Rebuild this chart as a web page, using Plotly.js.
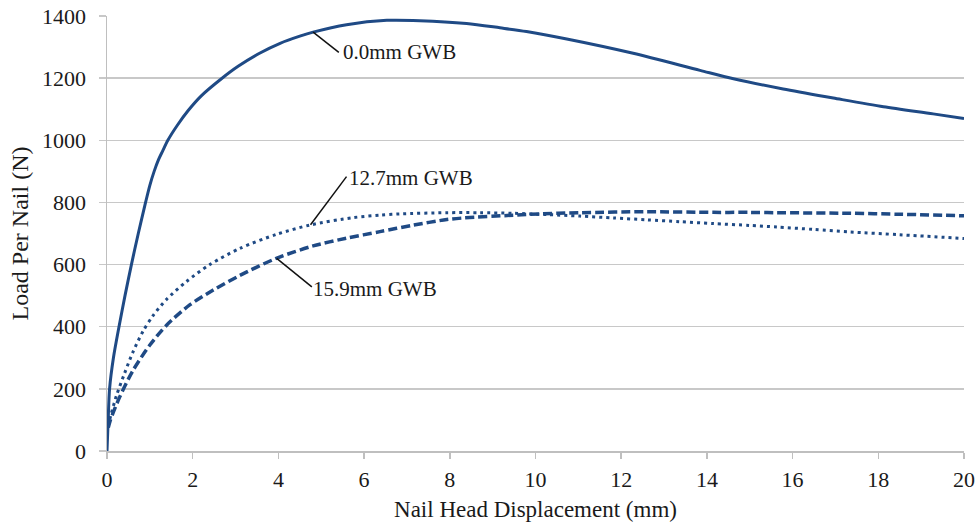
<!DOCTYPE html>
<html>
<head>
<meta charset="utf-8">
<script src="https://cdn.plot.ly/plotly-3.0.1.min.js"></script>
<style>
  html, body { margin: 0; padding: 0; background: #fff; }
  #chart { width: 976px; height: 525px; }
</style>
</head>
<body>
<div id="chart"></div>
<script>
// Nail head displacement (mm) and load per nail (N) for each series
const seriesNames = ["0.0mm GWB", "12.7mm GWB", "15.9mm GWB"];

const x00 = [0, 0.03, 0.06, 0.15, 0.28, 0.42, 0.57, 0.73, 0.9, 1.0, 1.1, 1.2, 1.3, 1.42, 1.65, 1.89, 2.2, 2.67, 3.06, 3.56, 4.04, 4.5, 4.81, 5.59, 6.53, 7.3, 8.39, 9.17, 9.79, 10.73, 12.28, 13.84, 14.62, 15.78, 16.95, 18.12, 19.28, 20];
const y00 = [0, 110, 200, 300, 400, 500, 600, 700, 800, 855, 900, 937, 966, 1000, 1050, 1095, 1143, 1198, 1238, 1280, 1312, 1335, 1348, 1372, 1386, 1385, 1376, 1362, 1350, 1326, 1280, 1225, 1198, 1165, 1136, 1108, 1085, 1070];

const x127 = [0.02, 0.1, 0.22, 0.41, 0.61, 0.84, 1.07, 1.39, 1.85, 2.4, 3.1, 3.95, 4.73, 5.74, 6.37, 6.83, 7.93, 8.7, 9.48, 10.26, 11.04, 11.82, 12.6, 13.37, 14.15, 15.0, 15.63, 16.5, 17.34, 18.5, 20];
const y127 = [80, 120, 178, 250, 320, 385, 435, 488, 545, 600, 652, 697, 727, 751, 759, 763, 767, 767, 765, 761, 756, 750, 744, 738, 732, 726, 721, 713, 705, 696, 684];

const x159 = [0.03, 0.08, 0.3, 0.61, 1.0, 1.39, 1.93, 2.48, 3.1, 3.95, 4.81, 5.59, 6.37, 7.15, 7.93, 8.32, 9.48, 9.87, 11.04, 12.6, 14.15, 15.0, 15.63, 17.34, 18.5, 20];
const y159 = [75, 100, 175, 260, 341, 405, 470, 518, 565, 620, 660, 685, 706, 727, 745, 750, 759, 762, 767, 770, 768, 768, 767, 765, 762, 757];

const xTicks = [0, 2, 4, 6, 8, 10, 12, 14, 16, 18, 20];
const yTicks = [0, 200, 400, 600, 800, 1000, 1200, 1400];

const lineColor = "#1f4a85";
const serif = "'Liberation Serif', 'Times New Roman', Times, serif";

const traces = [
  { x: x00, y: y00, name: seriesNames[0], mode: "lines", line: { color: lineColor, width: 3, shape: "spline", smoothing: 0.8 } },
  { x: x127, y: y127, name: seriesNames[1], mode: "lines", line: { color: lineColor, width: 3, dash: "3px,4px", shape: "spline", smoothing: 0.8 } },
  { x: x159, y: y159, name: seriesNames[2], mode: "lines", line: { color: lineColor, width: 3.5, dash: "9px,4px", shape: "spline", smoothing: 0.8 } }
];

const labelFont = { family: serif, size: 21, color: "#1a1a1a" };
const leader = { type: "line", xref: "x", yref: "y", line: { color: "#111", width: 1.5 } };

const layout = {
  width: 976, height: 525,
  margin: { l: 107, r: 12, t: 16, b: 74 },
  paper_bgcolor: "#fff", plot_bgcolor: "#fff",
  showlegend: false,
  font: { family: serif, color: "#1a1a1a" },
  xaxis: {
    range: [0, 20], tickvals: xTicks, ticktext: xTicks.map(String),
    showgrid: false, zeroline: false,
    showline: true, linecolor: "#bfbfbf", linewidth: 1.5,
    ticks: "outside", ticklen: 6, tickcolor: "#bfbfbf", tickwidth: 1.5,
    ticklabelstandoff: 2,
    tickfont: { family: serif, size: 22, color: "#1a1a1a" },
    title: { text: "Nail Head Displacement (mm)", font: { family: serif, size: 23, color: "#1a1a1a" }, standoff: 10 }
  },
  yaxis: {
    range: [0, 1400], tickvals: yTicks, ticktext: yTicks.map(String),
    showgrid: true, gridcolor: "#c8c8c8", gridwidth: 1.5, zeroline: false,
    showline: true, linecolor: "#bfbfbf", linewidth: 1.5,
    ticks: "outside", ticklen: 7, tickcolor: "#c8c8c8", tickwidth: 1.5,
    ticklabelstandoff: 8,
    tickfont: { family: serif, size: 22, color: "#1a1a1a" },
    title: { text: "Load Per Nail (N)", font: { family: serif, size: 24, color: "#1a1a1a" }, standoff: 6 }
  },
  shapes: [
    Object.assign({}, leader, { x0: 4.81, y0: 1348, x1: 5.41, y1: 1283 }),
    Object.assign({}, leader, { x0: 4.75, y0: 728, x1: 5.59, y1: 883 }),
    Object.assign({}, leader, { x0: 3.96, y0: 620, x1: 4.78, y1: 528 })
  ],
  annotations: [
    { x: 5.45, y: 1283, xref: "x", yref: "y", text: seriesNames[0], showarrow: false, xanchor: "left", yanchor: "middle", font: labelFont },
    { x: 5.6, y: 879, xref: "x", yref: "y", text: seriesNames[1], showarrow: false, xanchor: "left", yanchor: "middle", font: labelFont },
    { x: 4.76, y: 520, xref: "x", yref: "y", text: seriesNames[2], showarrow: false, xanchor: "left", yanchor: "middle", font: labelFont }
  ]
};

Plotly.newPlot("chart", traces, layout, { displayModeBar: false, staticPlot: true });
</script>
</body>
</html>
